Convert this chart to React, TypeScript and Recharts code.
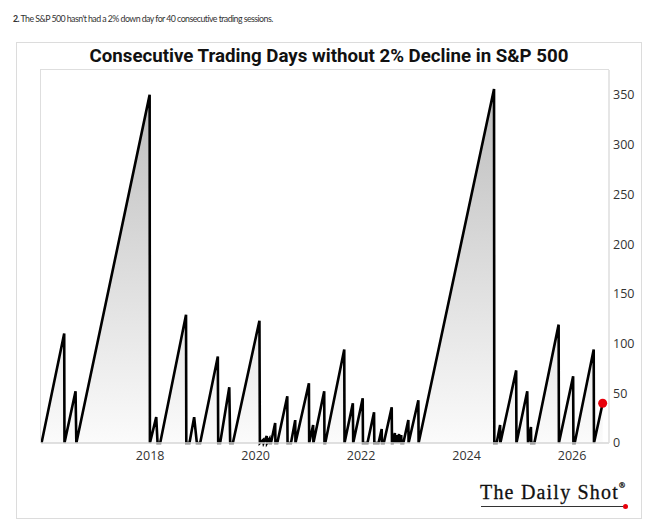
import React from "react";
import {
  AreaChart,
  Area,
  XAxis,
  YAxis,
  ReferenceDot,
} from "recharts";

// vertices of the streak line (decimal year, streak length)
const dates = [
  2015.94, 2016.37, 2016.375, 2016.585, 2016.6, 2017.99, 2017.995,
  2018.115, 2018.14, 2018.19, 2018.68, 2018.685, 2018.745, 2018.834, 2018.885, 2018.948,
  2019.283, 2019.29, 2019.327, 2019.5, 2019.517, 2019.568, 2020.072, 2020.08,
  2020.14, 2020.15, 2020.21, 2020.215, 2020.26, 2020.265, 2020.29, 2020.37, 2020.375,
  2020.41, 2020.6, 2020.605, 2020.67, 2020.75, 2020.755, 2021.01, 2021.015,
  2021.09, 2021.095, 2021.3, 2021.305, 2021.32, 2021.68, 2021.685,
  2021.843, 2021.85, 2022.03, 2022.035, 2022.12, 2022.245, 2022.25,
  2022.33, 2022.39, 2022.395, 2022.43, 2022.58, 2022.585,
  2022.6, 2022.64, 2022.645, 2022.68, 2022.685, 2022.72, 2022.725, 2022.76, 2022.765,
  2022.8, 2022.895, 2022.9, 2023.085, 2023.09, 2024.52, 2024.525,
  2024.57, 2024.635, 2024.64, 2024.94, 2024.945, 2025.15, 2025.165, 2025.22, 2025.225,
  2025.285, 2025.745, 2025.75, 2026.02, 2026.025, 2026.05, 2026.41, 2026.415, 2026.58,
];

const days = [
  0, 110, 0, 52, 0, 350, 0,
  26, 0, 0, 129, 0, 0, 26, 0, 0,
  87, 0, 0, 56, 0, 0, 123, 0,
  3, 0, 7, 0, 4, 0, 0, 20, 0,
  0, 47, 0, 0, 23, 0, 60, 0,
  18, 0, 52, 0, 0, 94, 0,
  40, 0, 45, 0, 0, 31, 0,
  0, 14, 0, 0, 36, 0,
  0, 10, 0, 8, 0, 9, 0, 8, 0,
  0, 23, 0, 43, 0, 356, 0,
  0, 18, 0, 73, 0, 52, 0, 16, 0,
  0, 119, 0, 67, 0, 0, 94, 0, 40,
];

const yearTicks = [2018, 2020, 2022, 2024, 2026];
const dayTicks = [0, 50, 100, 150, 200, 250, 300, 350];

const chartData = dates.map((t, i) => ({ t, days: days[i] }));
const lastDate = dates[dates.length - 1];
const lastDays = days[days.length - 1];

export default function App() {
  return (
    <div
      style={{
        position: "absolute",
        left: 0,
        top: 0,
        width: 664,
        height: 532,
        background: "#fff",
        fontFamily: "Lato, 'Open Sans', sans-serif",
      }}
    >
      <div
        style={{
          position: "absolute",
          left: 13,
          top: 13,
          fontSize: 8.8,
          letterSpacing: -0.55,
          color: "#333",
          whiteSpace: "nowrap",
        }}
      >
        <b>2.</b> The S&amp;P 500 hasn't had a 2% down day for 40 consecutive trading sessions.
      </div>

      {/* card */}
      <div
        style={{
          position: "absolute",
          left: 16,
          top: 42,
          width: 624,
          height: 475,
          border: "1px solid #dcdcdc",
        }}
      />

      <div
        style={{
          position: "absolute",
          left: 16,
          width: 626,
          top: 45,
          textAlign: "center",
          fontFamily: "Roboto, sans-serif",
          fontWeight: 700,
          fontSize: 18.7,
          color: "#111",
          whiteSpace: "nowrap",
        }}
      >
        Consecutive Trading Days without 2% Decline in S&amp;P 500
      </div>

      {/* plot frame */}
      <div
        style={{
          position: "absolute",
          left: 40,
          top: 69,
          width: 568,
          height: 373,
          borderTop: "1.5px solid #dedede",
          borderLeft: "1.5px solid #dedede",
        }}
      />

      <div style={{ position: "absolute", left: 0, top: 0 }}>
        <AreaChart
          width={664}
          height={532}
          data={chartData}
          margin={{ top: 70, left: 41, right: 15, bottom: 59 }}
        >
          <defs>
            <linearGradient id="grayFade" x1="0" y1="0" x2="0" y2="1">
              <stop offset="0%" stopColor="#bdbdbd" />
              <stop offset="100%" stopColor="#fbfbfb" />
            </linearGradient>
          </defs>
          <XAxis
            dataKey="t"
            type="number"
            domain={[2015.93, 2026.7]}
            ticks={yearTicks}
            allowDataOverflow
            height={30}
            tickLine={false}
            axisLine={{ stroke: "#d6d6d6", strokeWidth: 1.5 }}
            tick={{ fill: "#333", fontSize: 12.5, fontFamily: "'Open Sans', sans-serif" }}
          />
          <YAxis
            orientation="right"
            width={40}
            domain={[0, 375]}
            ticks={dayTicks}
            tickLine={false}
            tickSize={2}
            tickMargin={2}
            axisLine={{ stroke: "#dedede", strokeWidth: 1.5 }}
            tick={{ fill: "#333", fontSize: 12.5, fontFamily: "'Open Sans', sans-serif", textAnchor: "start" }}
          />
          <Area
            type="linear"
            dataKey="days"
            stroke="#000"
            strokeWidth={2.6}
            strokeLinejoin="miter"
            fill="url(#grayFade)"
            fillOpacity={1}
            dot={false}
            activeDot={false}
            isAnimationActive={false}
          />
          <ReferenceDot x={lastDate} y={lastDays} r={4.5} fill="#e8000b" stroke="none" />
        </AreaChart>
      </div>

      {/* logo */}
      <div
        style={{
          position: "absolute",
          left: 480,
          top: 481,
          fontFamily: "'Liberation Serif', 'DejaVu Serif', serif",
          fontSize: 20,
          letterSpacing: 1.2,
          color: "#111",
          WebkitTextStroke: "0.3px #111",
          whiteSpace: "nowrap",
        }}
      >
        The Daily Shot
        <span style={{ fontSize: 8, verticalAlign: "top", letterSpacing: 0 }}>®</span>
      </div>
      <div
        style={{
          position: "absolute",
          left: 481,
          top: 505.5,
          width: 142,
          height: 1.8,
          background: "#333",
        }}
      />
      <div
        style={{
          position: "absolute",
          left: 622.5,
          top: 503.5,
          width: 5,
          height: 5,
          borderRadius: "50%",
          background: "#e8000b",
        }}
      />
    </div>
  );
}
